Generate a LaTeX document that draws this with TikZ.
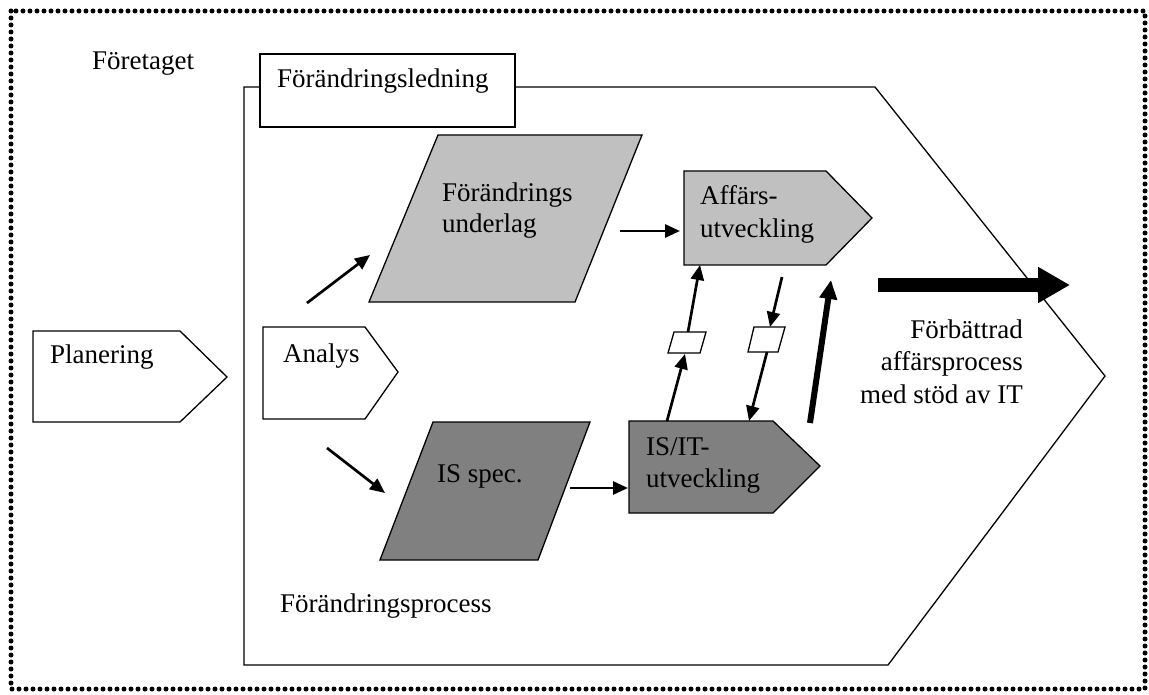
\documentclass[tikz,border=0pt]{standalone}
\usepackage{fontspec}
\setmainfont{Liberation Serif}
\usetikzlibrary{arrows.meta}
\definecolor{boxlight}{RGB}{192,192,192}
\definecolor{boxdark}{RGB}{128,128,128}

\begin{document}
\begin{tikzpicture}[x=1pt,y=-1pt,
  outline/.style={draw=black, line width=1.3pt, line join=miter},
  lightbox/.style={outline, fill=boxlight},
  darkbox/.style={outline, fill=boxdark},
  plainbox/.style={outline, fill=white},
  lbl/.style={anchor=base west, inner sep=0pt, font=\fontsize{27}{32}\selectfont},
  rlbl/.style={anchor=base east, inner sep=0pt, font=\fontsize{27}{32}\selectfont},
  link/.style={line width=2.7pt, -{Triangle[length=15pt,width=13pt]}},
  boldlink/.style={line width=6pt, -{Triangle[length=19pt,width=17pt]}},
  result/.style={line width=13pt, -{Triangle[length=32pt,width=34pt]}}
]
\useasboundingbox (0,0) rectangle (1149,695);

% dotted frame of the company
\draw[line width=5pt, dash pattern=on 0pt off 7pt, line cap=round]
  (11,11) rectangle (1145,689);

% change process container
\draw[outline] (244,87) -- (875,87) -- (1105,376) -- (888,665) -- (244,665) -- cycle;

% change management tab
\draw[plainbox] (260,54) rectangle (515,127);

% planning and analysis
\draw[outline] (33,331) -- (180,331) -- (227,377) -- (180,422) -- (33,422) -- cycle;
\draw[outline] (263,327) -- (365,327) -- (398,372) -- (365,419) -- (263,419) -- cycle;

% change basis and IS specification
\draw[lightbox] (369,302) -- (575,302) -- (642,135) -- (438,135) -- cycle;
\draw[darkbox] (380,560) -- (538,560) -- (590,422) -- (433,422) -- cycle;

% business development and IS/IT development
\draw[lightbox] (684,171) -- (826,171) -- (872,218) -- (826,265) -- (684,265) -- cycle;
\draw[darkbox] (629,421) -- (773,421) -- (820,466) -- (773,513) -- (629,513) -- cycle;

% small exchange documents
\draw[plainbox] (668,353) -- (700,353) -- (706,332) -- (674,332) -- cycle;
\draw[plainbox] (748,352) -- (778,352) -- (785,327) -- (754,327) -- cycle;

% labels
\node[lbl] (foretaget) at (92,70) {Företaget};
\node[lbl] (ledning) at (277,88) {Förändringsledning};
\node[lbl] (planering) at (50,363) {Planering};
\node[lbl] (analys) at (283,362) {Analys};
\node[lbl] (underlagA) at (442,202) {Förändrings};
\node[lbl] (underlagB) at (442,233) {underlag};
\node[lbl] (isspec) at (437,482) {IS spec.};
\node[lbl] (affA) at (700,205) {Affärs-};
\node[lbl] (affB) at (700,238) {utveckling};
\node[lbl] (isitA) at (646,455) {IS/IT-};
\node[lbl] (isitB) at (646,487) {utveckling};
\node[lbl] (process) at (280,612) {Förändringsprocess};
\node[rlbl] (resA) at (1023,338) {Förbättrad};
\node[rlbl] (resB) at (1023,370) {affärsprocess};
\node[rlbl] (resC) at (1023,403) {med stöd av IT};

% connector end points
\coordinate (anaUp) at (307,303);
\coordinate (undIn) at (370,255);
\coordinate (anaDown) at (327,448);
\coordinate (specIn) at (385,493);
\coordinate (undOut) at (620,231);
\coordinate (affIn) at (680,231);
\coordinate (specOut) at (570,488);
\coordinate (isitIn) at (628,488);
\coordinate (isitTopL) at (667,421);
\coordinate (docAbot) at (685,354);
\coordinate (docAtop) at (688,332);
\coordinate (affBotL) at (700,265);
\coordinate (affBotR) at (782,277);
\coordinate (docBtop) at (770,327);
\coordinate (docBbot) at (767,352);
\coordinate (isitTopR) at (749,421);
\coordinate (boldFrom) at (810,423);
\coordinate (boldTo) at (831,280);
\coordinate (resFrom) at (878,285);
\coordinate (resTo) at (1070,285);

% connectors
\draw[link] (anaUp) -- (undIn);
\draw[link] (anaDown) -- (specIn);
\draw[link] (undOut) -- (affIn);
\draw[link] (specOut) -- (isitIn);
\draw[link] (isitTopL) -- (docAbot);
\draw[link] (docAtop) -- (affBotL);
\draw[link] (affBotR) -- (docBtop);
\draw[link] (docBbot) -- (isitTopR);
\draw[boldlink] (boldFrom) -- (boldTo);
\draw[result] (resFrom) -- (resTo);
\end{tikzpicture}
\end{document}
